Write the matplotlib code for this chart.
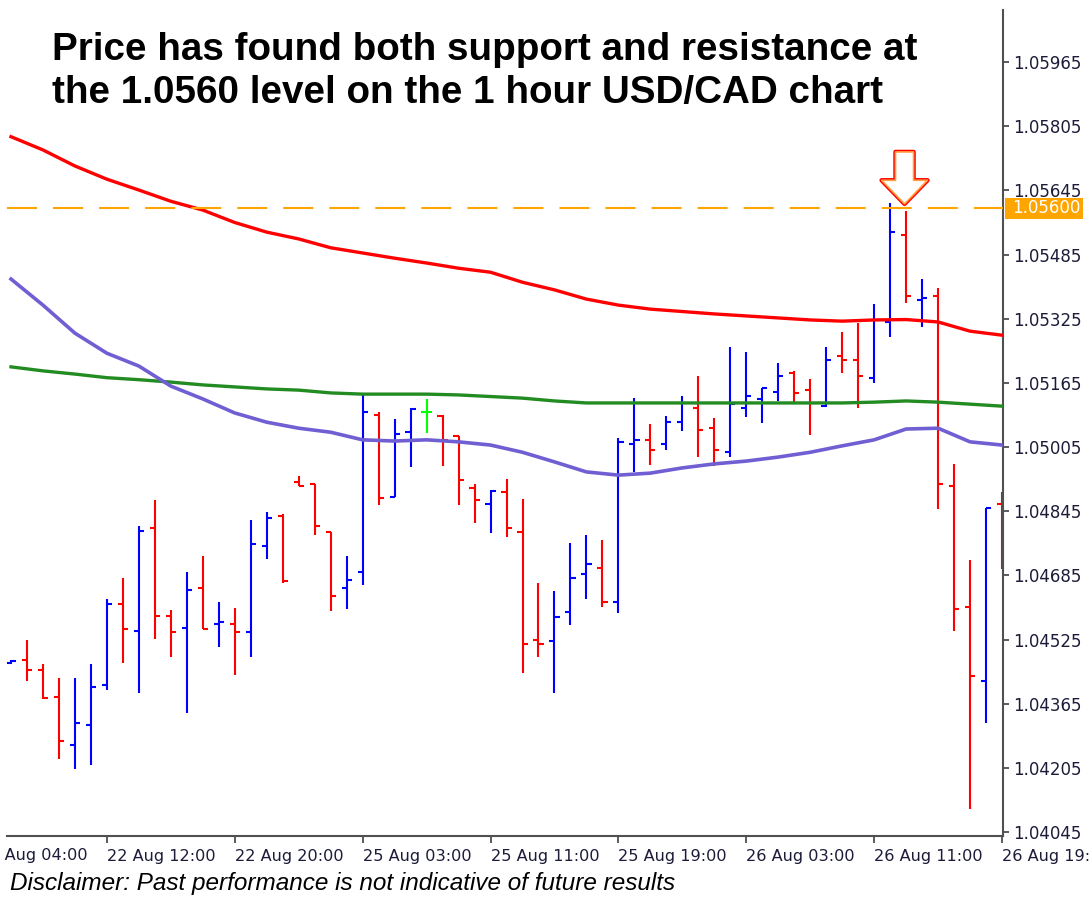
import matplotlib
matplotlib.use('Agg')
import matplotlib.pyplot as plt
import matplotlib.transforms as mtransforms
from matplotlib.patches import Rectangle

# hourly USD/CAD bars, oldest first (bar 0 = 22 Aug 10:00)
opens = [1.04466, 1.04473, 1.04448, 1.04382, 1.04263, 1.04313, 1.04412, 1.04613, 1.04547, 1.04802,
         1.04584, 1.04553, 1.04653, 1.04563, 1.04563, 1.04543, 1.04757, 1.04834, 1.04917, 1.04913,
         1.04794, 1.04653, 1.04693, 1.05085, 1.04881, 1.05042, 1.05092, 1.05082, 1.05033, 1.04904,
         1.04862, 1.04892, 1.04792, 1.04524, 1.04522, 1.04593, 1.04688, 1.04703, 1.04618, 1.05012,
         1.05023, 1.05012, 1.05067, 1.05103, 1.05052, 1.04992, 1.05102, 1.05126, 1.05142, 1.05189,
         1.05148, 1.05108, 1.05232, 1.05222, 1.05177, 1.05317, 1.05535, 1.05372, 1.05382, 1.04908,
         1.04607, 1.04422, 1.04863]
highs = [1.04474, 1.04524, 1.04465, 1.04429, 1.04429, 1.04465, 1.04625, 1.04678, 1.04809, 1.04874,
         1.04599, 1.04694, 1.04734, 1.04619, 1.04604, 1.04823, 1.04844, 1.04837, 1.04933, 1.04913,
         1.04794, 1.04734, 1.05135, 1.05092, 1.05074, 1.05103, 1.05124, 1.05084, 1.05033, 1.04913,
         1.04899, 1.04925, 1.04875, 1.04665, 1.04645, 1.04765, 1.04785, 1.04774, 1.05028, 1.05128,
         1.05063, 1.05082, 1.05133, 1.05183, 1.05078, 1.05254, 1.05243, 1.05153, 1.05214, 1.05195,
         1.05174, 1.05254, 1.05293, 1.05315, 1.05363, 1.05614, 1.05594, 1.05423, 1.05402, 1.04963,
         1.04723, 1.04854, 1.04892]
lows = [1.04464, 1.04422, 1.04376, 1.04226, 1.04201, 1.04211, 1.04399, 1.04467, 1.04391, 1.04526,
        1.04481, 1.04342, 1.04551, 1.04506, 1.04437, 1.04481, 1.04726, 1.04667, 1.04908, 1.04786,
        1.04596, 1.04600, 1.04661, 1.04860, 1.04880, 1.04955, 1.05041, 1.04959, 1.04860, 1.04815,
        1.04790, 1.04781, 1.04441, 1.04481, 1.04391, 1.04560, 1.04626, 1.04605, 1.04590, 1.04943,
        1.04960, 1.04998, 1.05046, 1.04980, 1.04959, 1.04980, 1.05080, 1.05064, 1.05119, 1.05118,
        1.05035, 1.05105, 1.05190, 1.05102, 1.05165, 1.05280, 1.05365, 1.05305, 1.04851, 1.04546,
        1.04102, 1.04316, 1.04701]
closes = [1.04471, 1.04448, 1.04378, 1.04273, 1.04318, 1.04407, 1.04613, 1.04552, 1.04796, 1.04583,
          1.04543, 1.04648, 1.04552, 1.04568, 1.04543, 1.04762, 1.04827, 1.04672, 1.04908, 1.04807,
          1.04634, 1.04673, 1.05092, 1.04879, 1.05037, 1.05101, 1.05092, 1.05023, 1.04923, 1.04873,
          1.04895, 1.04803, 1.04513, 1.04513, 1.04582, 1.04678, 1.04713, 1.04619, 1.05017, 1.05023,
          1.04997, 1.05068, 1.05114, 1.05047, 1.04998, 1.05112, 1.05132, 1.05152, 1.05181, 1.05141,
          1.05115, 1.05222, 1.05222, 1.05182, 1.05322, 1.05541, 1.05382, 1.05377, 1.04912, 1.04602,
          1.04434, 1.04854, 1.04773]

# moving averages, read every second bar
ma_bars = list(range(0, 63, 2))
ma_red = [1.05779, 1.05746, 1.05706, 1.05673, 1.05646, 1.05618, 1.05596, 1.05565, 1.05541, 1.05524,
          1.05502, 1.05489, 1.05476, 1.05464, 1.05451, 1.05441, 1.05416, 1.05397, 1.05374, 1.05359,
          1.05349, 1.05343, 1.05337, 1.05332, 1.05327, 1.05322, 1.05319, 1.05322, 1.05323, 1.05317,
          1.05294, 1.05284]
ma_green = [1.05205, 1.05195, 1.05187, 1.05178, 1.05173, 1.05167, 1.05160, 1.05155, 1.05150, 1.05147,
            1.05140, 1.05137, 1.05137, 1.05137, 1.05135, 1.05131, 1.05127, 1.05120, 1.05115, 1.05115,
            1.05115, 1.05115, 1.05115, 1.05115, 1.05115, 1.05115, 1.05115, 1.05117, 1.05120, 1.05117,
            1.05112, 1.05107]
ma_purple = [1.05424, 1.05359, 1.05289, 1.05239, 1.05207, 1.05157, 1.05125, 1.05090, 1.05067, 1.05052,
             1.05042, 1.05023, 1.05020, 1.05023, 1.05018, 1.05010, 1.04992, 1.04968, 1.04943, 1.04935,
             1.04940, 1.04953, 1.04963, 1.04970, 1.04980, 1.04992, 1.05008, 1.05023, 1.05050, 1.05052,
             1.05018, 1.05010]

level = 1.0560
time_bars = [-2, 6, 14, 22, 30, 38, 46, 54, 62]
time_labels = ['22 Aug 04:00', '22 Aug 12:00', '22 Aug 20:00', '25 Aug 03:00', '25 Aug 11:00',
               '25 Aug 19:00', '26 Aug 03:00', '26 Aug 11:00', '26 Aug 19:00']
price_ticks = [1.04045, 1.04205, 1.04365, 1.04525, 1.04685, 1.04845, 1.05005,
               1.05165, 1.05325, 1.05485, 1.05645, 1.05805, 1.05965]

fig = plt.figure(figsize=(10.89, 8.97), dpi=100)
ax = fig.add_axes([7/1089, 1 - 836/897, 996/1089, 826/897])

idx = list(range(len(opens)))
colors = []
for o, c in zip(opens, closes):
    if c > o:
        colors.append('#0000ff')
    elif c < o:
        colors.append('#ff0000')
    else:
        colors.append('#00ff00')

tick = 0.32
ax.vlines(idx, lows, highs, colors=colors, linewidth=1.5, zorder=2)
ax.hlines(opens, [i - tick for i in idx], idx, colors=colors, linewidth=1.5, zorder=2)
ax.hlines(closes, idx, [i + tick for i in idx], colors=colors, linewidth=1.5, zorder=2)

ax.plot(ma_bars, ma_green, color='#228b22', linewidth=2.4, zorder=3)
ax.plot(ma_bars, ma_purple, color='#6f5fd2', linewidth=2.6, zorder=3)
ax.plot(ma_bars, ma_red, color='#ff0000', linewidth=2.4, zorder=3)

ax.axhline(level, color='#ffa500', linewidth=1.5, dashes=(14.4, 7.7), zorder=4)

# hollow arrow pointing at the rejection (orange rim under red outline)
arrow_style = 'simple,head_length=1.7,head_width=3.3,tail_width=1.3'
for ec, lw in [('#ff0000', 3.2), ('#ffa040', 1.2)]:
    ax.annotate('', xy=(55.9, level), xytext=(0, 40.7), textcoords='offset points',
                arrowprops=dict(arrowstyle=arrow_style, fc='white', ec=ec, lw=lw,
                                shrinkA=0, shrinkB=3.3, mutation_scale=10), zorder=6)

ax.set_xlim(-0.25, 62.06)
ax.set_ylim(1.04035, 1.06095)

for s in ['top', 'left']:
    ax.spines[s].set_visible(False)
for s in ['right', 'bottom']:
    ax.spines[s].set_color('#505050')
    ax.spines[s].set_linewidth(1.5)

lab_color = '#1c1c3a'
ax.yaxis.tick_right()
ax.set_yticks(price_ticks)
ax.set_yticklabels(['%.5f' % p for p in price_ticks])
ax.tick_params(axis='y', direction='out', length=4, width=1.2, color='#404040',
               pad=3, labelsize=12, labelcolor=lab_color)

vis = [b for b in time_bars if b >= 0]
ax.set_xticks(vis)
ax.set_xticklabels([time_labels[time_bars.index(b)] for b in vis], ha='left')
ax.tick_params(axis='x', direction='out', length=5, width=1.2, color='#404040',
               pad=4, labelsize=11.6, labelcolor=lab_color)
ax.text(time_bars[0], -0.0151, time_labels[0], transform=ax.get_xaxis_transform(),
        ha='left', va='top', fontsize=11.6, color=lab_color, clip_on=False)

# current level label on the price scale
ax.add_patch(Rectangle((1.002, level - 0.00025), 0.0785, 0.0005, transform=ax.get_yaxis_transform(),
                       facecolor='#ffa500', edgecolor='none', clip_on=False, zorder=5))
off = mtransforms.offset_copy(ax.get_yaxis_transform(), fig=fig, x=9, y=0, units='dots')
ax.text(1.0, level, '%.5f' % level, transform=off, ha='left', va='center',
        fontsize=12, color='white', clip_on=False, zorder=6)

fig.text(52/1089, 1 - 60/897, 'Price has found both support and resistance at',
         fontsize=27.8, fontweight='bold', family='Liberation Sans', va='baseline')
fig.text(52/1089, 1 - 103/897, 'the 1.0560 level on the 1 hour USD/CAD chart',
         fontsize=27.8, fontweight='bold', family='Liberation Sans', va='baseline')

fig.text(10/1089, 1 - 890/897, 'Disclaimer: Past performance is not indicative of future results',
         fontsize=17.5, style='italic', family='Liberation Sans', va='baseline')

fig.savefig('out.png', dpi=100)
